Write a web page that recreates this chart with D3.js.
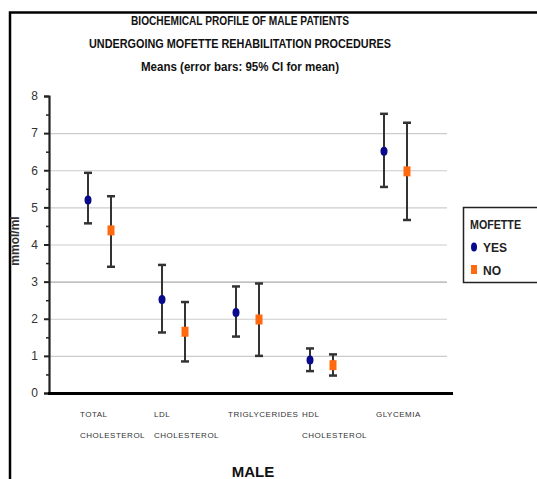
<!DOCTYPE html>
<html>
<head>
<meta charset="utf-8">
<script src="https://cdn.jsdelivr.net/npm/d3@7"></script>
<style>
body { margin: 0; background: #fff; }
svg { display: block; font-family: "Liberation Sans Narrow", "Arial Narrow", "Liberation Sans", Arial, sans-serif; }
.title { font-weight: bold; font-size: 12.5px; fill: #111; }
.tick text { font-size: 12px; fill: #333; }
.cat { font-size: 8px; fill: #333; font-family: "Liberation Sans", Arial, sans-serif; letter-spacing: 0.5px; }
</style>
</head>
<body>
<div id="chart"></div>
<script>
// data
var categories = ["TOTAL|CHOLESTEROL", "LDL|CHOLESTEROL", "TRIGLYCERIDES", "HDL|CHOLESTEROL", "GLYCEMIA"];
var groups = ["YES", "NO"];
var yesMean = [5.2, 2.52, 2.17, 0.89, 6.51];
var yesLow  = [4.57, 1.63, 1.52, 0.59, 5.55];
var yesHigh = [5.93, 3.45, 2.87, 1.2, 7.52];
var noMean  = [4.38, 1.65, 1.98, 0.75, 5.97];
var noLow   = [3.4, 0.85, 1.0, 0.47, 4.66];
var noHigh  = [5.3, 2.45, 2.95, 1.04, 7.28];
var yTicks = [0, 1, 2, 3, 4, 5, 6, 7, 8];

var width = 537, height = 479;
var svg = d3.select("#chart")
.append("svg")
.attr("width", width)
.attr("height", height);

// outer frame (top + left only)
svg.append("path")
.attr("d", "M10,479V12.5H537")
.attr("fill", "none")
.attr("stroke", "#000")
.attr("stroke-width", 2.5);

// titles
var titles = ["BIOCHEMICAL PROFILE OF MALE PATIENTS", "UNDERGOING MOFETTE REHABILITATION PROCEDURES", "Means  (error bars: 95% CI for mean)"];
var titleLen = [218, 302, 198];
svg.selectAll(".title")
.data(titles)
.enter()
.append("text")
.attr("class", "title")
.attr("x", 240)
.attr("y", function(d, i){ return 25 + i*23; })
.attr("text-anchor", "middle")
.attr("textLength", function(d, i){ return titleLen[i]; })
.attr("lengthAdjust", "spacingAndGlyphs")
.text(function(d){ return d; });

var y = d3.scaleLinear()
.domain([0, 8])
.range([393, 96]);

var x = d3.scaleBand()
.domain(categories)
.range([62, 432]);

var off = d3.scaleOrdinal()
.domain(groups)
.range([-11, 12]);

// gridlines
svg.append("g")
.selectAll("line")
.data(yTicks.slice(1, 8))
.enter()
.append("line")
.attr("x1", 50)
.attr("x2", 447)
.attr("y1", function(d){ return y(d) + 0.5; })
.attr("y2", function(d){ return y(d) + 0.5; })
.attr("stroke", function(d){ return d == 3 ? "#aaa" : "#ccc"; })
.attr("stroke-width", 1.2);

// y axis major ticks
var yAxis = svg.append("g")
.attr("transform", "translate(49,0)")
.call(d3.axisLeft(y).tickValues(yTicks).tickSize(5).tickPadding(6).tickFormat(d3.format("d")));
yAxis.select(".domain").attr("stroke-width", 2.2).attr("stroke", "#222");
yAxis.selectAll(".tick line").attr("stroke-width", 2).attr("stroke", "#222");

// minor ticks
svg.append("g")
.attr("transform", "translate(49,0)")
.call(d3.axisLeft(y).tickValues(d3.range(0.5, 8, 1)).tickSize(3).tickFormat(""))
.call(function(g){ g.select(".domain").remove(); })
.selectAll(".tick line").attr("stroke", "#222").attr("stroke-width", 1.5);

// x axis line
svg.append("line")
.attr("x1", 48)
.attr("x2", 453)
.attr("y1", 393.5)
.attr("y2", 393.5)
.attr("stroke", "#000")
.attr("stroke-width", 3);

// category labels
var cat = svg.append("g")
.selectAll("text")
.data(categories)
.enter()
.append("text")
.attr("class", "cat")
.attr("y", 417);
cat.selectAll("tspan")
.data(function(d){ return d.split("|").map(function(t){ return {t: t, parent: d}; }); })
.enter()
.append("tspan")
.attr("x", function(d){ return x(d.parent) + x.bandwidth()/2 - 19; })
.attr("dy", function(d, i){ return i == 0 ? 0 : 21; })
.text(function(d){ return d.t; });

// build rows
var rows = [];
categories.forEach(function(c, i){
  rows.push({cat: c, g: "YES", m: yesMean[i], lo: yesLow[i], hi: yesHigh[i]});
  rows.push({cat: c, g: "NO", m: noMean[i], lo: noLow[i], hi: noHigh[i]});
});
function cx(d){ return x(d.cat) + x.bandwidth()/2 + off(d.g); }

var bars = svg.append("g")
.selectAll("g")
.data(rows)
.enter()
.append("g")
.attr("stroke", "#333")
.attr("stroke-width", 2);
bars.append("line")
.attr("x1", cx).attr("x2", cx)
.attr("y1", function(d){ return y(d.lo); })
.attr("y2", function(d){ return y(d.hi); });
bars.append("line")
.attr("x1", function(d){ return cx(d) - 4; }).attr("x2", function(d){ return cx(d) + 4; })
.attr("y1", function(d){ return y(d.lo); })
.attr("y2", function(d){ return y(d.lo); })
.attr("stroke-width", 2.5);
bars.append("line")
.attr("x1", function(d){ return cx(d) - 4; }).attr("x2", function(d){ return cx(d) + 4; })
.attr("y1", function(d){ return y(d.hi); })
.attr("y2", function(d){ return y(d.hi); })
.attr("stroke-width", 2.5);

// markers
var pts = svg.append("g");
pts.selectAll("ellipse")
.data(rows.filter(function(d){ return d.g == "YES"; }))
.enter()
.append("ellipse")
.attr("cx", cx)
.attr("cy", function(d){ return y(d.m); })
.attr("rx", 3.5)
.attr("ry", 4.5)
.attr("fill", "#0a0a8c");
pts.selectAll("rect")
.data(rows.filter(function(d){ return d.g == "NO"; }))
.enter()
.append("rect")
.attr("x", function(d){ return cx(d) - 3.5; })
.attr("y", function(d){ return y(d.m) - 5; })
.attr("width", 7)
.attr("height", 10)
.attr("fill", "#ff6a10");

// y label
svg.append("text")
.attr("transform", "translate(19,241)rotate(-90)")
.attr("text-anchor", "middle")
.style("font-size", "12px")
.style("font-weight", "bold")
.attr("fill", "#333")
.text("mmol/ml");

// x title
svg.append("text")
.attr("x", 253)
.attr("y", 477)
.attr("text-anchor", "middle")
.style("font-size", "15px")
.style("font-weight", "bold")
.attr("fill", "#111")
.text("MALE");

// legend
var legend = svg.append("g").attr("transform", "translate(463,207)");
legend.append("rect")
.attr("x", 0.5).attr("y", 0.5)
.attr("width", 80).attr("height", 75)
.attr("fill", "#fff")
.attr("stroke", "#222")
.attr("stroke-width", 1.5);
legend.append("text")
.attr("x", 7).attr("y", 22)
.attr("textLength", 51).attr("lengthAdjust", "spacingAndGlyphs")
.style("font-size", "12px").style("font-weight", "bold").attr("fill", "#222")
.text("MOFETTE");
legend.append("ellipse")
.attr("cx", 11).attr("cy", 40).attr("rx", 3).attr("ry", 4.5)
.attr("fill", "#0a0a8c");
legend.append("rect")
.attr("x", 8).attr("y", 58).attr("width", 6).attr("height", 9)
.attr("fill", "#ff6a10");
legend.selectAll(".lg")
.data(groups)
.enter()
.append("text")
.attr("x", 20)
.attr("y", function(d, i){ return 45 + i*23; })
.style("font-size", "12px").style("font-weight", "bold").attr("fill", "#222")
.text(function(d){ return d; });
</script>
</body>
</html>
